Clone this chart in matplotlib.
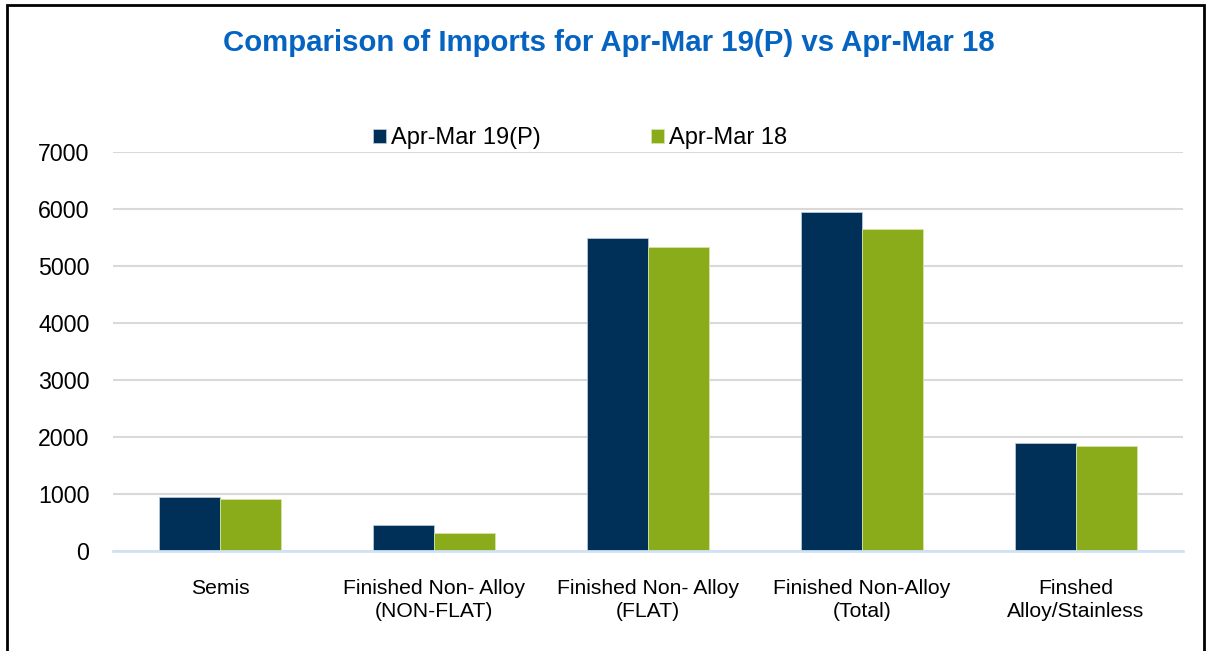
import matplotlib
matplotlib.use("Agg")
import matplotlib.pyplot as plt
import numpy as np
from matplotlib.patches import Rectangle

categories = ["Semis", "Finished Non- Alloy\n(NON-FLAT)", "Finished Non- Alloy\n(FLAT)",
              "Finished Non-Alloy\n(Total)", "Finshed\nAlloy/Stainless"]
series_names = ["Apr-Mar 19(P)", "Apr-Mar 18"]
apr_mar_19 = [953, 456, 5486, 5953, 1889]
apr_mar_18 = [918, 310, 5333, 5643, 1848]
yticks = [0, 1000, 2000, 3000, 4000, 5000, 6000, 7000]

plt.rcParams['font.family'] = ['Liberation Sans', 'DejaVu Sans']

fig = plt.figure(figsize=(12.1, 6.51), dpi=100)
ax = fig.add_axes([113/1210, 1 - 551/651, 1070/1210, 399/651])

x = np.arange(len(categories))
w = 0.285
ax.bar(x - w/2, apr_mar_19, w, color="#003057", edgecolor="#b8c8d8", linewidth=0.6,
       label=series_names[0], zorder=3)
ax.bar(x + w/2, apr_mar_18, w, color="#8aac1a", edgecolor="#d5e3a8", linewidth=0.6,
       label=series_names[1], zorder=3)

ax.set_xlim(-0.5, len(categories) - 0.5)
ax.set_ylim(0, 7000)
ax.set_yticks(yticks)
ax.set_yticklabels([str(t) for t in yticks], fontsize=16.7)
ax.set_xticks(x)
ax.set_xticklabels(categories, fontsize=15.2, linespacing=1.3)
ax.tick_params(axis='y', length=0, pad=17)
ax.tick_params(axis='x', length=0, pad=20)
ax.grid(axis='y', color="#d9d9d9", linewidth=1.5, zorder=0)
for s in ["top", "right", "left"]:
    ax.spines[s].set_visible(False)
ax.spines["bottom"].set_color("#cfe3f5")
ax.spines["bottom"].set_linewidth(2)
ax.spines["bottom"].set_zorder(4)

leg = fig.legend(loc="center", bbox_to_anchor=(580/1210, 1 - 138/651), ncol=2, frameon=False,
                 fontsize=17, handlelength=0.55, handleheight=0.55, handletextpad=0.2,
                 columnspacing=4.7)

fig.text(609/1210, 1 - 43/651, "Comparison of Imports for Apr-Mar 19(P) vs Apr-Mar 18",
         ha="center", va="center", fontsize=21.2, fontweight="bold", color="#0563c1")

fig.patches.append(Rectangle((7/1210, -0.02), 1197/1210, 1.02 - 5/651, transform=fig.transFigure,
                             fill=False, edgecolor="black", linewidth=2))

fig.savefig("out.png", dpi=100)
